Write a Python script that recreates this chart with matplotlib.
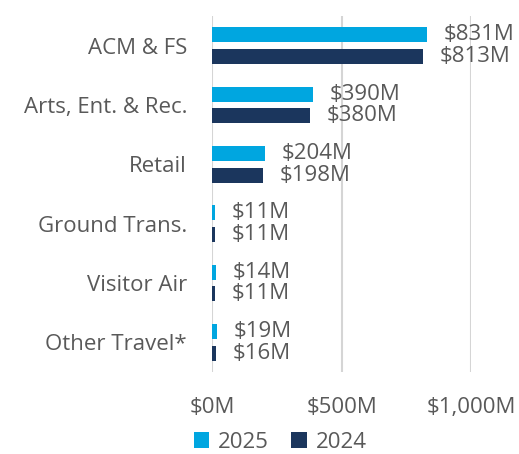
import matplotlib.pyplot as plt
import numpy as np

# Data (millions of dollars)
categories = ['ACM & FS', 'Arts, Ent. & Rec.', 'Retail', 'Ground Trans.', 'Visitor Air', 'Other Travel*']
values_2025 = [831, 390, 204, 11, 14, 19]
values_2024 = [813, 380, 198, 11, 11, 16]
xticks = [0, 500, 1000]
xtick_labels = ['$0M', '$500M', '$1,000M']

c2025 = '#00A6E0'
c2024 = '#1B365D'
txt = '#595959'

plt.rcParams['font.family'] = ['Open Sans', 'DejaVu Sans']

fig = plt.figure(figsize=(5.19, 4.54), dpi=100)
ax = fig.add_axes([0.4085, 0.1806, 0.499, 0.7842])

y = np.arange(len(categories))
h = 0.253
off = 0.185
b1 = ax.barh(y - off, values_2025, height=h, color=c2025, label='2025')
b2 = ax.barh(y + off, values_2024, height=h, color=c2024, label='2024')

for bars, vals in [(b1, values_2025), (b2, values_2024)]:
    for bar, v in zip(bars, vals):
        ax.annotate('${}M'.format(v), (v, bar.get_y() + bar.get_height() / 2),
                    xytext=(12, 0), textcoords='offset points', va='center', ha='left',
                    fontsize=16, color=txt, annotation_clip=False)

ax.set_ylim(len(categories) - 0.5, -0.5)
ax.set_xlim(0, 1000)
ax.set_yticks(y)
ax.set_yticklabels(categories)
ax.set_xticks(xticks)
ax.set_xticklabels(xtick_labels)
ax.tick_params(axis='y', length=0, pad=18, labelsize=16, labelcolor=txt)
ax.tick_params(axis='x', length=0, pad=18, labelsize=16, labelcolor=txt)
for s in ax.spines.values():
    s.set_visible(False)
ax.grid(axis='x', color='#D5D5D5', linewidth=1.5)
ax.set_axisbelow(True)

leg = fig.legend(handles=[b1, b2], labels=['2025', '2024'], loc='center', bbox_to_anchor=(0.54, 0.026),
                 ncol=2, frameon=False, fontsize=16, handlelength=0.7, handleheight=0.7,
                 handletextpad=0.4, columnspacing=1.0, borderaxespad=0)
for t in leg.get_texts():
    t.set_color(txt)

fig.savefig('out.png', dpi=100)
